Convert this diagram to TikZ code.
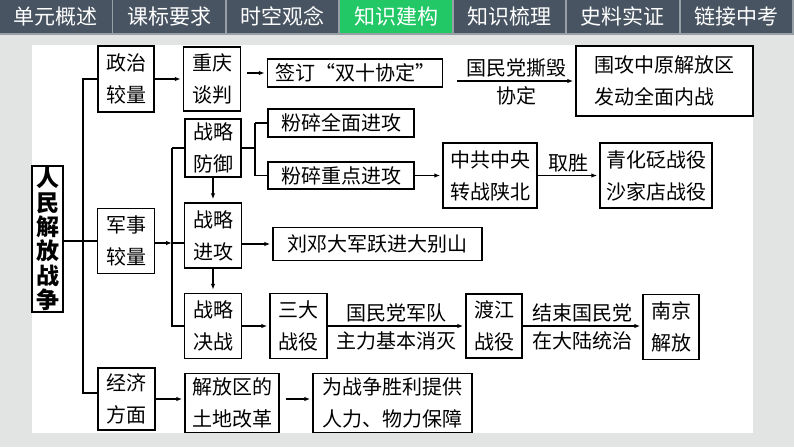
\documentclass[tikz,border=0pt]{standalone}
\usepackage{fontspec}
\newfontfamily\cjk{Noto Sans CJK SC}
\usetikzlibrary{arrows.meta}
\definecolor{tabgray}{RGB}{72,84,98}
\definecolor{tabline}{RGB}{150,158,166}
\definecolor{tabgreen}{RGB}{34,200,102}
\definecolor{bggray}{RGB}{226,228,228}
\begin{document}
\begin{tikzpicture}[x=1pt,y=-1pt,
  box/.style={draw,line width=1.4pt,inner sep=0pt,align=center,
    font=\cjk\fontsize{20}{32}\selectfont},
  lbl/.style={inner sep=3pt,font=\cjk\fontsize{20}{24}\selectfont},
  lblb/.style={lbl,inner sep=5pt},
  tab/.style={text=white,inner sep=0pt,font=\cjk\fontsize{21}{21}\selectfont},
  arr/.style={-{Latex[length=6pt,width=4.5pt]},line width=1.2pt,shorten >=2pt},
  ln/.style={line width=1.2pt}]
\useasboundingbox (0,0) rectangle (794,447);
% background and tabs
\fill[bggray] (0,0) rectangle (794,447);
\fill[tabline] (0,0) rectangle (794,35);
\foreach \t [count=\i from 0] in {单元概述,课标要求,时空观念,知识建构,知识梳理,史料实证,链接中考} {
  \ifnum\i=3 \def\tabcol{tabgreen}\else\def\tabcol{tabgray}\fi
  \fill[\tabcol] (\i*113.43,0) rectangle ++(111.6,33);
  \node[tab] (tab\i) at (\i*113.43+55.8,16.5) {\t};
}
\fill[white] (32,45) rectangle (753,433);

% nodes
\node[box,minimum width=31,minimum height=146,
  font=\cjk\bfseries\fontsize{23}{24.3}\selectfont] (war) at (47.5,239) {人\\民\\解\\放\\战\\争};
\node[box,minimum width=56,minimum height=66] (zhengzhi) at (126,79) {政治\\较量};
\node[box,minimum width=57,minimum height=64] (chongqing) at (212,79) {重庆\\谈判};
\node[box,minimum width=175,minimum height=28] (qianding) at (355,73) {签订“双十协定”};
\node[box,minimum width=177,minimum height=70,align=left] (weigong) at (664.5,81) {围攻中原解放区\\发动全面内战};
\node[box,minimum width=56,minimum height=58] (fangyu) at (213,148) {战略\\防御};
\node[box,minimum width=146,minimum height=28] (quanmian) at (341,123) {粉碎全面进攻};
\node[box,minimum width=146,minimum height=27] (zhongdian) at (341,175.5) {粉碎重点进攻};
\node[box,minimum width=94,minimum height=65] (zhongyang) at (490,175.5) {中共中央\\转战陕北};
\node[box,minimum width=112,minimum height=65] (qinghua) at (656,175.5) {青化砭战役\\沙家店战役};
\node[box,minimum width=57,minimum height=65] (junshi) at (126,241) {军事\\较量};
\node[box,minimum width=57,minimum height=65] (jingong) at (213,235.5) {战略\\进攻};
\node[box,minimum width=209,minimum height=33] (liudeng) at (377.5,244) {刘邓大军跃进大别山};
\node[box,minimum width=57,minimum height=65] (juezhan) at (213,326) {战略\\决战};
\node[box,minimum width=57,minimum height=65] (sanda) at (298.5,326) {三大\\战役};
\node[box,minimum width=56,minimum height=64] (dujiang) at (494,326) {渡江\\战役};
\node[box,minimum width=56,minimum height=65] (nanjing) at (671,327) {南京\\解放};
\node[box,minimum width=57,minimum height=62] (jingji) at (126.5,399) {经济\\方面};
\node[box,minimum width=94,minimum height=59] (tudi) at (232,403) {解放区的\\土地改革};
\node[box,minimum width=159,minimum height=59] (baozhang) at (392.5,403) {为战争胜利提供\\人力、物力保障};

% main trunk
\coordinate (t1) at (83,79);
\coordinate (t1b) at (83,393);
\draw[ln] (war.east |- junshi) -- (junshi.west);
\draw[ln] (t1 -| zhengzhi.west) -- (t1) -- (t1b) -- (t1b -| jingji.west);

% political
\draw[arr] (zhengzhi) -- (chongqing);
\draw[arr,shorten <=6pt] (chongqing.east |- qianding) -- (qianding.west);
\coordinate (hd) at (457,81);
\draw[arr] (hd) -- (hd -| weigong.west)
  node[midway,above,lbl] {国民党撕毁} node[midway,below,lblb] {协定};

% military
\coordinate (t2) at (172,243);
\draw[arr,shorten >=0pt] (junshi.east |- t2) -- (t2);
\draw[ln] (t2 |- fangyu) -- (fangyu.west);
\draw[ln] (t2 |- fangyu) -- (t2 |- juezhan) -- (juezhan.west);
\draw[ln] (t2) -- (t2 -| jingong.west);
\coordinate (fy) at (255,148);
\draw[ln] (fangyu.east) -- (fy);
\draw[ln] (fy |- quanmian) -- (fy |- zhongdian);
\draw[ln] (fy |- quanmian) -- (quanmian.west);
\draw[ln] (fy |- zhongdian) -- (zhongdian.west);
\draw[arr] (zhongdian) -- (zhongyang);
\draw[arr] (zhongyang) -- (qinghua) node[midway,above,lbl] {取胜};
\draw[arr,shorten >=3pt] (fangyu) -- (jingong);
\draw[arr,shorten >=3pt] (jingong) -- (juezhan);
\draw[arr] (jingong.east |- liudeng) -- (liudeng.west);
\draw[arr] (juezhan) -- (sanda);
\draw[arr] (sanda) -- (dujiang)
  node[midway,above,lbl] {国民党军队} node[midway,below,lblb] {主力基本消灭};
\draw[arr] (dujiang.east) -- (dujiang.east -| nanjing.west)
  node[midway,above,lbl] {结束国民党} node[midway,below,lblb] {在大陆统治};

% economic
\draw[arr] (jingji.east) -- (jingji.east -| tudi.west);
\draw[arr,shorten <=6pt] (jingji.east -| tudi.east) -- (jingji.east -| baozhang.west);
\end{tikzpicture}
\end{document}
